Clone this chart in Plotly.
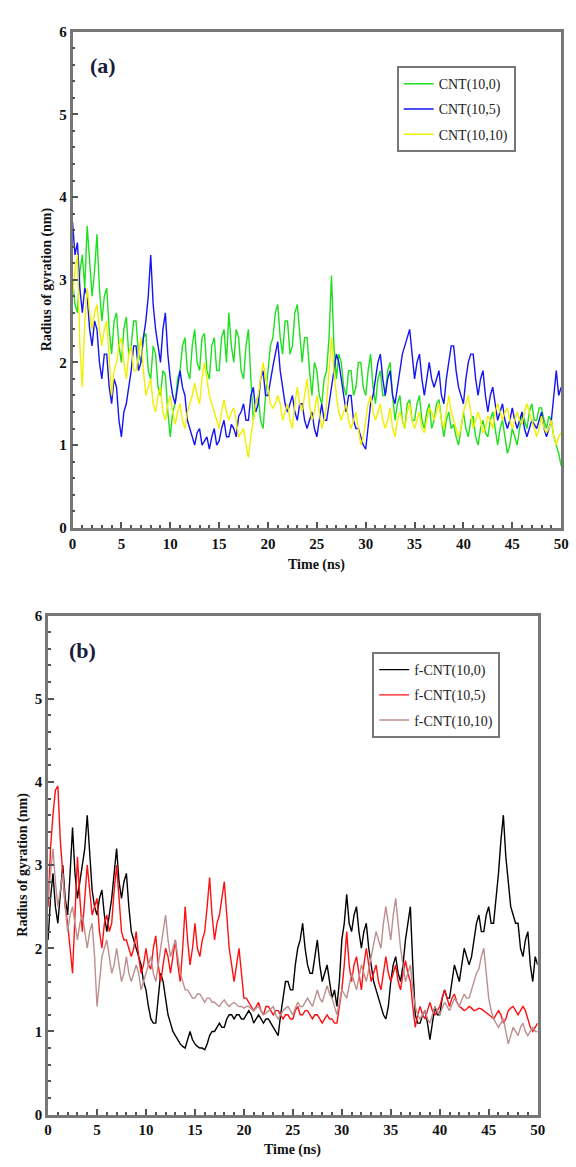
import plotly.graph_objects as go

# ---------------- data (time step 0.25 ns, 0 .. 50 ns) ----------------
time_ns = [i * 0.25 for i in range(201)]

cnt_10_0 = [
    3.0, 2.7, 2.6, 3.1, 3.3, 2.9, 3.65, 3.2, 2.8, 3.1, 3.55, 2.9, 2.5, 2.8, 2.9, 2.4, 2.1, 2.5, 2.6, 2.2,
    2.0, 2.4, 2.55, 2.1, 2.2, 2.5, 2.5, 2.1, 2.0, 2.3, 2.35, 1.9, 1.8, 2.2, 2.1, 1.7, 1.6, 1.9, 1.85, 1.4,
    1.1, 1.4, 1.5, 1.8, 1.9, 2.2, 2.3, 1.9, 1.8, 2.2, 2.4, 2.0, 1.9, 2.3, 2.35, 1.9, 1.8, 2.2, 2.3, 1.9,
    1.9, 2.3, 2.4, 2.0, 2.6, 2.2, 2.0, 2.4, 2.3, 1.9, 1.8, 2.2, 2.4, 1.8, 1.3, 1.5, 1.6, 1.3, 1.2, 1.6,
    1.9, 2.2, 2.3, 2.6, 2.7, 2.3, 2.1, 2.5, 2.5, 2.1, 2.2, 2.6, 2.7, 2.3, 2.0, 2.3, 2.3, 1.9, 1.6, 2.0,
    1.9, 1.6, 1.5, 1.8, 1.9, 2.3, 3.05, 2.2, 1.8, 2.1, 2.0, 1.7, 1.6, 1.9, 1.9, 1.6, 1.7, 2.0, 2.0, 1.7,
    1.6, 1.9, 2.1, 1.7, 1.5, 1.8, 1.9, 1.6, 1.6, 1.9, 2.0, 1.6, 1.3, 1.5, 1.6, 1.3, 1.2, 1.5, 1.55, 1.3,
    1.3, 1.5, 1.6, 1.3, 1.2, 1.4, 1.5, 1.2, 1.3, 1.5, 1.55, 1.3, 1.1, 1.3, 1.4, 1.2, 1.25, 1.1, 1.0, 1.2,
    1.4, 1.2, 1.1, 1.3, 1.35, 1.1, 1.0, 1.2, 1.3, 1.15, 1.1, 1.3, 1.4, 1.2, 1.0, 1.2, 1.3, 1.1, 0.9, 1.0,
    1.2, 1.1, 1.0, 1.2, 1.4, 1.3, 1.2, 1.4, 1.5, 1.3, 1.3, 1.45, 1.45, 1.3, 1.2, 1.35, 1.3, 1.1, 1.0, 0.9,
    0.75]

cnt_10_5 = [
    3.7, 3.3, 3.45, 2.9, 2.6, 2.9, 2.8, 2.4, 2.2, 2.5, 2.4, 2.0, 1.8, 2.1, 2.1, 1.7, 1.5, 1.8, 1.7, 1.3,
    1.1, 1.4, 1.5, 1.7, 1.9, 2.2, 2.2, 1.9, 2.0, 2.3, 2.5, 2.8, 3.3, 2.7, 2.4, 2.2, 2.0, 2.4, 2.6, 2.1,
    1.8, 1.6, 1.5, 1.7, 1.9, 1.7, 1.6, 1.3, 1.2, 1.1, 1.0, 1.15, 1.2, 1.0, 1.05, 1.1, 0.95, 1.1, 1.2, 1.0,
    1.05, 1.2, 1.3, 1.1, 1.1, 1.25, 1.2, 1.1, 1.35, 1.4, 1.5, 1.3, 1.3, 1.6, 1.7, 1.4, 1.5, 1.8, 1.9, 1.6,
    1.6, 1.8, 1.95, 2.1, 2.25, 1.9, 1.7, 1.5, 1.4, 1.5, 1.6, 1.4, 1.3, 1.5, 1.5, 1.3, 1.2, 1.3, 1.4, 1.2,
    1.1, 1.3, 1.5, 1.3, 1.3, 1.5, 1.7, 1.9, 2.1, 2.0, 1.8, 1.6, 1.4, 1.6, 1.6, 1.3, 1.2, 1.2, 1.1, 1.0,
    0.95, 1.2, 1.5, 1.6, 1.8, 2.0, 2.1, 1.8, 1.6, 1.8, 1.9, 1.6, 1.5, 1.7, 1.9, 2.1, 2.2, 2.3, 2.4, 2.1,
    1.8, 2.0, 2.1, 1.8, 1.6, 1.8, 2.0, 1.8, 1.7, 1.8, 1.9, 1.6, 1.5, 1.8, 2.0, 2.2, 2.2, 1.9, 1.7, 1.6,
    1.5, 1.8, 2.0, 2.1, 2.1, 1.8, 1.6, 1.8, 1.9, 1.6, 1.4, 1.6, 1.7, 1.5, 1.3, 1.4, 1.5, 1.3, 1.2, 1.3,
    1.45, 1.3, 1.2, 1.3, 1.4, 1.2, 1.1, 1.2, 1.3, 1.25, 1.2, 1.3, 1.4, 1.2, 1.1, 1.2, 1.3, 1.6, 1.9, 1.6,
    1.7]

cnt_10_10 = [
    2.8, 3.1, 3.3, 2.2, 1.7, 2.5, 2.9, 2.6, 2.4, 2.6, 2.7, 2.4, 2.2, 2.4, 2.5, 2.0, 1.6, 1.9, 2.0, 2.2,
    2.3, 2.0, 1.8, 2.1, 2.2, 1.9, 1.9, 2.1, 2.3, 1.9, 1.6, 1.7, 1.8, 1.5, 1.4, 1.6, 1.7, 1.4, 1.3, 1.5,
    1.6, 1.4, 1.25, 1.4, 1.5, 1.3, 1.2, 1.4, 1.5, 1.6, 1.75, 1.6, 1.5, 1.8, 2.0, 1.8, 1.6, 1.5, 1.4, 1.3,
    1.2, 1.4, 1.55, 1.4, 1.3, 1.4, 1.45, 1.3, 1.1, 1.15, 1.2, 1.0, 0.85, 1.1, 1.3, 1.5, 1.6, 1.8, 2.0, 1.8,
    1.7, 1.5, 1.45, 1.5, 1.6, 1.5, 1.3, 1.4, 1.5, 1.3, 1.2, 1.5, 1.7, 1.5, 1.4, 1.6, 1.8, 1.5, 1.3, 1.4,
    1.6, 1.4, 1.2, 1.3, 1.5, 1.9, 2.3, 1.9, 1.6, 1.4, 1.3, 1.4, 1.5, 1.3, 1.2, 1.3, 1.4, 1.2, 1.0, 1.1,
    1.3, 1.5, 1.6, 1.4, 1.3, 1.4, 1.5, 1.3, 1.2, 1.3, 1.45, 1.2, 1.1, 1.3, 1.4, 1.3, 1.2, 1.4, 1.5, 1.3,
    1.2, 1.3, 1.4, 1.2, 1.15, 1.3, 1.45, 1.4, 1.3, 1.4, 1.5, 1.3, 1.2, 1.4, 1.6, 1.4, 1.3, 1.2, 1.1, 1.2,
    1.4, 1.5, 1.6, 1.4, 1.2, 1.3, 1.4, 1.3, 1.15, 1.2, 1.35, 1.3, 1.2, 1.4, 1.5, 1.4, 1.3, 1.4, 1.45, 1.3,
    1.2, 1.3, 1.4, 1.3, 1.25, 1.4, 1.5, 1.4, 1.3, 1.2, 1.1, 1.2, 1.35, 1.2, 1.15, 1.2, 1.3, 1.1, 1.0, 1.1,
    1.15]

fcnt_10_0 = [
    2.1, 2.6, 2.9, 2.5, 2.3, 2.7, 3.0, 2.6, 2.4, 2.9, 3.45, 2.9, 2.6, 2.8, 3.0, 3.2, 3.6, 3.1, 2.7, 2.5,
    2.4, 2.6, 2.7, 2.4, 2.2, 2.4, 2.6, 2.9, 3.2, 2.8, 2.6, 2.8, 2.9, 2.5, 2.2, 2.1, 2.0, 1.9, 1.8, 1.6,
    1.5, 1.3, 1.15, 1.1, 1.1, 1.4, 1.7, 1.6, 1.4, 1.2, 1.1, 1.0, 0.95, 0.9, 0.85, 0.82, 0.8, 0.9, 1.0, 0.9,
    0.85, 0.82, 0.8, 0.8, 0.78, 0.85, 0.95, 1.0, 1.0, 1.05, 1.1, 1.05, 1.05, 1.15, 1.2, 1.2, 1.15, 1.2, 1.2, 1.15,
    1.15, 1.2, 1.25, 1.2, 1.1, 1.15, 1.2, 1.15, 1.1, 1.15, 1.15, 1.1, 1.05, 1.0, 0.95, 1.2, 1.4, 1.6, 1.6, 1.5,
    1.5, 1.8, 2.0, 2.1, 2.3, 2.0, 1.8, 1.7, 1.7, 1.9, 2.1, 1.8, 1.6, 1.7, 1.8, 1.6, 1.4, 1.5, 1.3, 1.6,
    2.1, 2.3, 2.65, 2.3, 2.2, 2.4, 2.5, 2.2, 2.0, 2.2, 2.3, 2.0, 1.8, 1.6, 1.5, 1.4, 1.3, 1.2, 1.15, 1.3,
    1.6, 1.8, 1.9, 1.7, 1.6, 1.8, 2.1, 2.3, 2.5, 1.8, 1.2, 1.1, 1.1, 1.2, 1.25, 1.1, 0.9, 1.1, 1.3, 1.2,
    1.2, 1.4, 1.5, 1.4, 1.4, 1.6, 1.8, 1.7, 1.6, 1.8, 2.0, 1.9, 1.8, 1.9, 2.1, 2.3, 2.4, 2.2, 2.2, 2.4,
    2.5, 2.3, 2.3, 2.6, 2.9, 3.3, 3.6, 3.1, 2.8, 2.5, 2.4, 2.3, 2.3, 2.0, 1.9, 2.1, 2.2, 1.8, 1.6, 1.9,
    1.8]

fcnt_10_5 = [
    2.5, 3.2, 3.6, 3.9, 3.95, 3.3, 2.9, 2.5, 2.3, 2.0, 1.7, 2.4, 3.1, 2.6, 2.2, 2.6, 3.0, 2.7, 2.4, 2.5,
    2.6, 2.2, 2.0, 2.3, 2.4, 2.2, 2.3, 2.7, 3.0, 2.6, 2.2, 2.1, 2.1, 2.0, 1.9, 2.0, 2.2, 1.9, 1.7, 1.8,
    2.0, 1.8, 1.75, 2.0, 2.15, 1.8, 1.6, 1.8, 2.0, 1.9, 1.7, 1.9, 2.1, 1.8, 1.6, 2.0, 2.5, 2.1, 1.8, 2.0,
    2.3, 2.0, 1.9, 2.1, 2.2, 2.5, 2.85, 2.4, 2.1, 2.3, 2.4, 2.6, 2.8, 2.4, 2.0, 1.8, 1.6, 1.8, 2.0, 1.7,
    1.4, 1.4, 1.35, 1.3, 1.25, 1.3, 1.35, 1.25, 1.2, 1.3, 1.3, 1.25, 1.2, 1.25, 1.25, 1.2, 1.15, 1.2, 1.2, 1.15,
    1.15, 1.25, 1.3, 1.2, 1.2, 1.25, 1.25, 1.2, 1.15, 1.2, 1.2, 1.15, 1.1, 1.15, 1.2, 1.15, 1.15, 1.1, 1.1, 1.3,
    1.5, 1.8, 2.2, 1.8, 1.6, 1.8, 1.9, 1.7, 1.5, 1.8, 2.0, 1.8, 1.6, 1.7, 1.8, 1.6, 1.5, 1.7, 1.9, 1.7,
    1.6, 1.7, 1.8, 1.6, 1.5, 1.7, 1.85, 1.7, 1.6, 1.3, 1.05, 1.2, 1.3, 1.2, 1.15, 1.25, 1.35, 1.25, 1.2, 1.25,
    1.3, 1.4, 1.5, 1.4, 1.3, 1.4, 1.45, 1.35, 1.3, 1.28, 1.25, 1.27, 1.3, 1.28, 1.25, 1.26, 1.28, 1.27, 1.25, 1.22,
    1.2, 1.18, 1.15, 1.2, 1.25, 1.2, 1.1, 1.15, 1.25, 1.28, 1.3, 1.25, 1.2, 1.25, 1.3, 1.25, 1.15, 1.05, 1.0, 1.05,
    1.1]

fcnt_10_10 = [
    2.6, 2.9, 3.2, 2.8, 2.5, 2.7, 2.9, 2.5, 2.2, 2.4, 2.5, 2.3, 2.1, 2.3, 2.4, 2.2, 2.0, 2.2, 2.3, 1.9,
    1.3, 1.6, 1.9, 2.0, 2.1, 1.9, 1.7, 1.8, 2.0, 1.8, 1.6, 1.7, 1.9, 1.7, 1.6, 1.7, 1.8, 1.7, 1.5, 1.6,
    1.7, 1.8, 1.9, 1.7, 1.6, 1.8, 2.0, 2.2, 2.4, 2.1, 1.9, 2.0, 2.1, 1.9, 1.7, 1.6, 1.5, 1.5, 1.45, 1.4,
    1.4, 1.45, 1.45, 1.4, 1.35, 1.4, 1.4, 1.35, 1.35, 1.32, 1.3, 1.35, 1.38, 1.33, 1.3, 1.33, 1.35, 1.32, 1.3, 1.3,
    1.28, 1.3, 1.3, 1.27, 1.25, 1.28, 1.3, 1.25, 1.2, 1.22, 1.25, 1.28, 1.3, 1.2, 1.15, 1.2, 1.25, 1.28, 1.3, 1.25,
    1.2, 1.28, 1.35, 1.3, 1.3, 1.35, 1.4, 1.35, 1.3, 1.4, 1.5, 1.4, 1.35, 1.45, 1.55, 1.45, 1.4, 1.3, 1.2, 1.35,
    1.5, 1.45, 1.4, 1.55, 1.7, 1.6, 1.5, 1.65, 1.8, 1.7, 1.6, 1.75, 1.9, 2.05, 2.2, 2.1, 2.0, 2.3, 2.5, 2.3,
    2.1, 2.4, 2.6, 2.3, 2.0, 1.8, 1.6, 1.7, 1.8, 1.5, 1.3, 1.2, 1.15, 1.2, 1.25, 1.15, 1.1, 1.2, 1.3, 1.25,
    1.2, 1.28, 1.35, 1.3, 1.25, 1.32, 1.4, 1.35, 1.3, 1.38, 1.45, 1.4, 1.4, 1.5, 1.6, 1.7, 1.75, 1.9, 2.0, 1.7,
    1.4, 1.25, 1.15, 1.1, 1.05, 1.1, 1.15, 1.0, 0.85, 0.95, 1.05, 1.0, 0.95, 1.05, 1.1, 1.0, 0.95, 1.0, 1.05, 1.0,
    1.0]

names_a = ["CNT(10,0)", "CNT(10,5)", "CNT(10,10)"]
names_b = ["f-CNT(10,0)", "f-CNT(10,5)", "f-CNT(10,10)"]
colors_a = ["#1ee01e", "#1414f5", "#f0f000"]
colors_b = ["#000000", "#ff1010", "#bc8f8f"]

x_ticks = [0, 5, 10, 15, 20, 25, 30, 35, 40, 45, 50]
y_ticks = [0, 1, 2, 3, 4, 5, 6]

# ---------------- figure ----------------
W, H = 576, 1167
fig = go.Figure()

for name, col, ys in zip(names_a, colors_a, [cnt_10_0, cnt_10_5, cnt_10_10]):
    fig.add_trace(go.Scatter(x=time_ns, y=ys, mode="lines", name=name,
                             line=dict(color=col, width=1.4),
                             xaxis="x", yaxis="y", legend="legend",
                             legendgroup=name))
for name, col, ys in zip(names_b, colors_b, [fcnt_10_0, fcnt_10_5, fcnt_10_10]):
    fig.add_trace(go.Scatter(x=time_ns, y=ys, mode="lines", name=name,
                             line=dict(color=col, width=1.4),
                             xaxis="x2", yaxis="y2", legend="legend2",
                             legendgroup=name))

serif = "Liberation Serif"
tickfont = dict(family=serif, size=15, color="#111", weight="bold")

def xax(domain, anchor):
    return dict(domain=domain, anchor=anchor, range=[0, 50],
                tickvals=x_ticks, ticks="inside", ticklen=6, tickwidth=1.5,
                tickcolor="#555", showline=True, mirror=True,
                linecolor="#777", linewidth=2.5, showgrid=False,
                zeroline=False, tickfont=tickfont,
                minor=dict(dtick=1, ticks="inside", ticklen=3,
                           tickcolor="#555", tickwidth=1.5, showgrid=False))

def yax(domain, anchor):
    return dict(domain=domain, anchor=anchor, range=[0, 6],
                tickvals=y_ticks, ticks="inside", ticklen=6, tickwidth=1.5,
                tickcolor="#555", showline=True, mirror=True,
                linecolor="#777", linewidth=2.5, showgrid=False,
                zeroline=False, tickfont=tickfont,
                minor=dict(dtick=0.2, ticks="inside", ticklen=3,
                           tickcolor="#555", tickwidth=1.5, showgrid=False))

def px_x(p):
    return p / W

def px_y(p):
    return 1 - p / H

fig.update_layout(
    width=W, height=H,
    margin=dict(l=0, r=0, t=0, b=0),
    paper_bgcolor="white", plot_bgcolor="white",
    showlegend=True,
    xaxis=xax([px_x(70), px_x(569)], "y"),
    yaxis=yax([px_y(527), px_y(24)], "x"),
    xaxis2=xax([px_x(45), px_x(545)], "y2"),
    yaxis2=yax([px_y(1122), px_y(616)], "x2"),
    legend=dict(x=px_x(401), y=px_y(59), xanchor="left", yanchor="top",
                bordercolor="#777", borderwidth=2, bgcolor="white",
                font=dict(family=serif, size=14, color="#222"),
                itemwidth=30, tracegroupgap=4),
    legend2=dict(x=px_x(376), y=px_y(653), xanchor="left", yanchor="top",
                 bordercolor="#777", borderwidth=2, bgcolor="white",
                 font=dict(family=serif, size=14, color="#222"),
                 itemwidth=30, tracegroupgap=4),
)

ann_font = dict(family=serif, size=14, color="#111", weight="bold")

def label(text, cx, cy, font, angle=0):
    return dict(text=text, x=px_x(cx), y=px_y(cy), xref="paper", yref="paper",
                xanchor="center", yanchor="middle", showarrow=False,
                textangle=angle, font=font)

panel_font = dict(family=serif, size=22, color="#1a1a3a", weight="bold")
annotations = [
    label("(a)", 101, 58, panel_font),
    label("(b)", 80, 651, panel_font),
    label("Time (ns)", 319, 565, ann_font),
    label("Time (ns)", 295, 1158, ann_font),
    label("Radius of gyration (nm)", 44, 275, ann_font, -90),
    label("Radius of gyration (nm)", 20, 869, ann_font, -90),
]
fig.update_layout(annotations=annotations)

fig.write_html("out.html")
